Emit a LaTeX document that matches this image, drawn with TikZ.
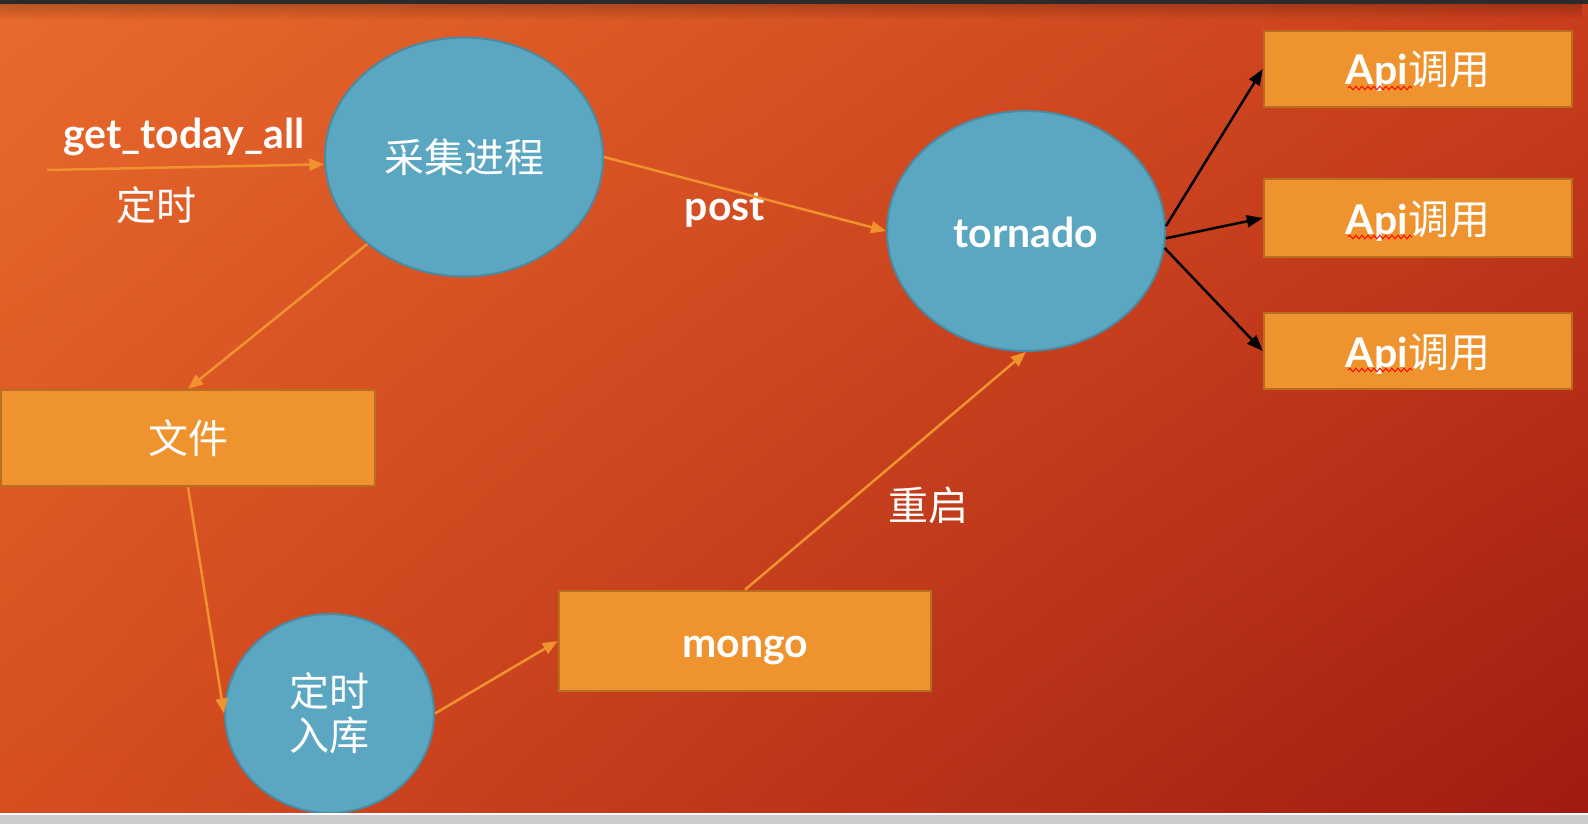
\documentclass[tikz,border=0pt]{standalone}
\usepackage{fontspec}
\setmainfont{Lato}
\newfontfamily\cjk{Noto Sans CJK SC}
\usetikzlibrary{shapes.geometric,arrows.meta,calc,decorations.pathmorphing,fadings,shadings}
\definecolor{bgtl}{RGB}{232,106,44}
\definecolor{bgtr}{RGB}{202,62,28}
\definecolor{bgbl}{RGB}{214,78,32}
\definecolor{bgbr}{RGB}{160,26,18}
\definecolor{topbar}{RGB}{43,43,43}
\definecolor{stripgray}{RGB}{204,204,204}
\definecolor{bluefill}{RGB}{91,166,192}
\definecolor{blueedge}{RGB}{74,138,162}
\definecolor{boxfill}{RGB}{238,147,46}
\definecolor{boxedge}{RGB}{184,110,30}
\definecolor{arrowor}{RGB}{240,146,45}
\begin{document}
\begin{tikzpicture}[x=1pt, y=-1pt,
	proc/.style={ellipse, draw=blueedge, line width=2pt, fill=bluefill, text=white, inner sep=0pt},
	box/.style={rectangle, draw=boxedge, line width=2.5pt, fill=boxfill, text=white, inner sep=0pt},
	flow/.style={draw=arrowor, line width=2.5pt, -{Triangle[length=15pt,width=12pt]}},
	call/.style={draw=black, line width=2.5pt, -{Triangle[length=16pt,width=12pt]}},
	lat/.style={font=\fontsize{41}{48}\selectfont\bfseries, text height=38pt, text depth=6pt},
	han/.style={font=\cjk\fontsize{40}{44}\selectfont}]
	\useasboundingbox (0,0) rectangle (1588,824);
	\shade[upper left=bgtl, upper right=bgtr, lower left=bgbl, lower right=bgbr] (0,0) rectangle (1588,824);
	\fill[black, opacity=0.2, path fading=south] (0,4) rectangle (1588,20);
	\fill[topbar] (0,0) rectangle (1588,4);

	\node (caiji) [proc, han, minimum width=278pt, minimum height=239pt] at (464,157) {采集进程};
	\node (tornado) [proc, lat, minimum width=278pt, minimum height=240pt] at (1026,231) {tornado};
	\node (ruku) [proc, han, align=center, minimum width=209pt, minimum height=199pt] at (329.5,713.5) {定时\\入库};
	\node (wenjian) [box, han, minimum width=374pt, minimum height=96pt] at (188,438) {文件};
	\node (mongo) [box, lat, minimum width=372pt, minimum height=100pt] at (745,641) {mongo};
	\node (api1) [box, lat, minimum width=308pt, minimum height=76pt] at (1418,69) {Api{\cjk\mdseries 调用}};
	\node (api2) [box, lat, minimum width=308pt, minimum height=78pt] at (1418,218) {Api{\cjk\mdseries 调用}};
	\node (api3) [box, lat, minimum width=308pt, minimum height=76pt] at (1418,351) {Api{\cjk\mdseries 调用}};

	\node (gettoday) [lat, text=white] at (184,133) {get\_today\_all};
	\node (dingshi) [han, text=white] at (156,205) {定时};
	\node (post) [lat, text=white] at (725,204) {post};
	\node (chongqi) [han, text=white] at (928,505) {重启};

	\foreach \n in {1,2,3}
		\draw[red, line width=0.9pt, decorate, decoration={snake, amplitude=1.8pt, segment length=6pt}] ($(api\n.center)+(-70,19)$) -- ++(64,0);

	\coordinate (gostart) at (47,170);
	\draw[flow] (gostart) -- (caiji.183);
	\draw[flow] (caiji.222) -- (wenjian.north);
	\draw[flow] (wenjian.south) -- (ruku.west);
	\draw[flow] (ruku.east) -- (mongo.west);
	\draw[flow] (mongo.north) -- (tornado.south);
	\draw[flow] (caiji.east) -- (tornado.west);
	\draw[call] (tornado.2) -- (api1.west);
	\draw[call] (tornado.-3) -- (api2.west);
	\draw[call] (tornado.-7) -- (api3.west);

	\fill[white] (0,813) rectangle (1588,815);
	\fill[stripgray] (0,815) rectangle (1588,824);
\end{tikzpicture}
\end{document}
